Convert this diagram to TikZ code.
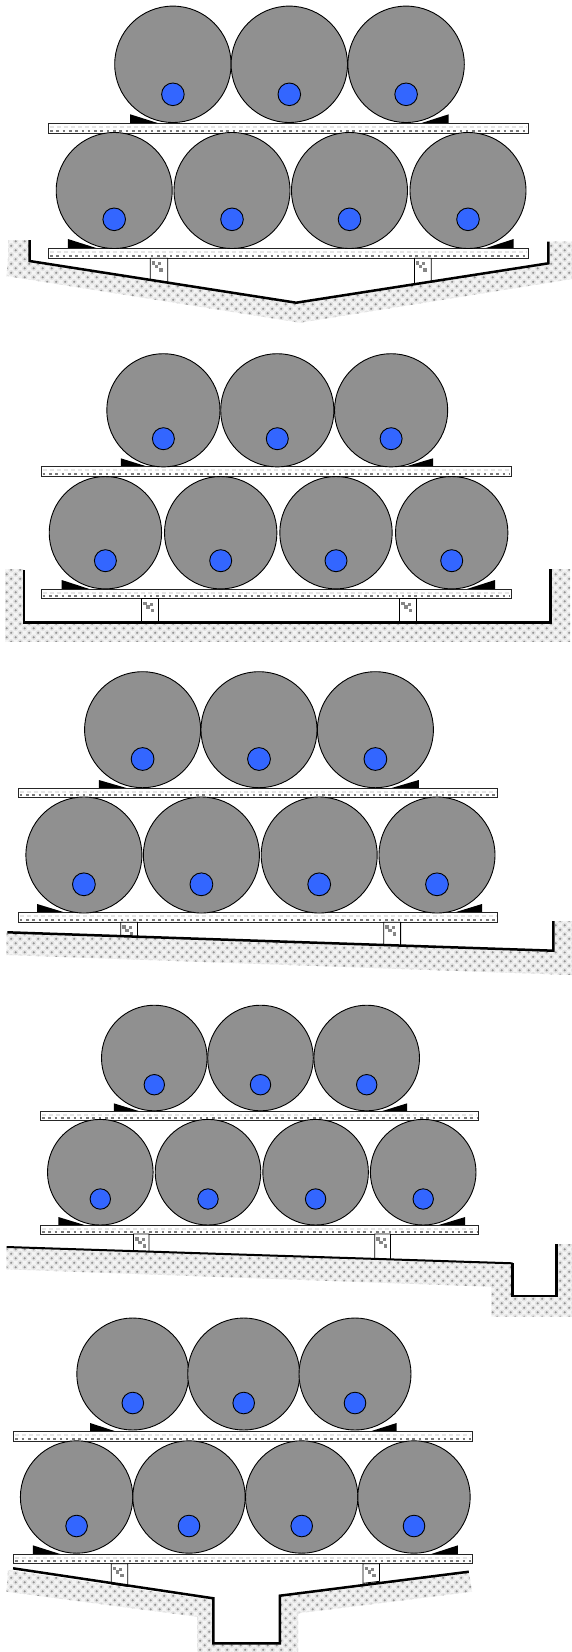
\documentclass[tikz,border=0pt]{standalone}
\usetikzlibrary{patterns}
\definecolor{drumgray}{HTML}{909090}
\definecolor{coreblue}{HTML}{3366FF}
\pgfdeclarepatternformonly{hdots}{\pgfqpoint{-1pt}{-1pt}}{\pgfqpoint{10pt}{10pt}}{\pgfqpoint{9pt}{9pt}}{%
  \pgfpathcircle{\pgfqpoint{2.2pt}{2.2pt}}{1.2pt}\pgfpathcircle{\pgfqpoint{6.7pt}{6.7pt}}{1.2pt}\pgfusepath{fill}}
\pgfdeclarepatternformonly{hdotsB}{\pgfqpoint{-1pt}{-1pt}}{\pgfqpoint{10pt}{10pt}}{\pgfqpoint{9pt}{9pt}}{%
  \pgfpathcircle{\pgfqpoint{2.2pt}{2.2pt}}{2.8pt}\pgfpathcircle{\pgfqpoint{6.7pt}{6.7pt}}{2.8pt}\pgfusepath{fill}}
\tikzset{
  hatched/.style={preaction={fill=black!4},preaction={pattern=hdotsB,pattern color=black!11},pattern=hdots,pattern color=black!42},
  groundline/.style={draw=black,line width=2.5pt,line join=miter,line cap=butt},
  platebox/.style={draw=black!85,line width=.9pt,fill=white},
  platedots/.style={draw=black!52,line width=1.8pt,dash pattern=on 2.6pt off 3.7pt},
  platefaint/.style={draw=black!10,line width=2pt,dash pattern=on 4pt off 3pt},
  supportbox/.style={draw=black,line width=.8pt,fill=white},
  supportmark/.style={fill=black!48},
  drum/.style={draw=black,line width=.9pt,fill=drumgray},
  corecirc/.style={draw=black,line width=.9pt,fill=coreblue},
  chock/.style={fill=black}
}
\newcommand{\plateat}[4]{% x1 x2 ytop ybot
  \path[platebox] (#1,#3) rectangle (#2,#4);
  \path[platefaint] (#1+1.5,#3+3.5) -- (#2-1.5,#3+3.5);
  \path[platedots] (#1+1.5,#4-2.4) -- (#2-1.5,#4-2.4);
  \path[draw=black!85,line width=.9pt] (#1,#3) rectangle (#2,#4);
}
\newcommand{\supportat}[5]{% x1 x2 ytop yleftbot yrightbot
  \path[supportbox] (#1,#3) -- (#1,#4) -- (#2,#5) -- (#2,#3) -- cycle;
  \path[supportmark] (#1+1.5,#3+3) rectangle (#1+5,#3+6.5);
  \path[supportmark] (#1+4.5,#3+6.5) rectangle (#1+8,#3+10);
  \path[supportmark] (#1+8,#3+4) rectangle (#1+11,#3+7);
  \path[supportmark] (#1+9,#3+10) rectangle (#1+12.5,#3+13.5);
}
\newcommand{\chockpair}[6]{% xoL xtL xoR xtR ytop ybot
  \path[chock] (#1,#6+.6) -- (#1,#5) -- (#2,#6+.6) -- cycle;
  \path[chock] (#3,#6+.6) -- (#3,#5) -- (#4,#6+.6) -- cycle;
}
\newcommand{\drumat}[5]{% cx cy r coreY coreR
  \path[drum] (#1,#2) circle[radius=#3pt];
  \path[corecirc] (#1,#4) circle[radius=#5pt];
}
\begin{document}
\begin{tikzpicture}[x=1pt,y=-1pt]
\useasboundingbox (0,0) rectangle (572,1652);
\fill[white] (0,0) rectangle (572,1652);

% ---------- scene 1
\path[hatched] (8,240) -- (29,240) -- (29,262) -- (8,259) -- cycle;
\path[hatched] (8,258.3) -- (29.5,261) -- (296.2,302.7) -- (300,322.7) -- (6.5,276) -- cycle;
\path[hatched] (296.2,302.7) -- (548.4,263.3) -- (572,260) -- (572,279) -- (300,322.7) -- cycle;
\path[hatched] (550,241.7) -- (572,241.7) -- (572,260) -- (550,263) -- cycle;
\chockpair{130.2}{160.5}{448.7}{418.8}{114.3}{123.3}
\chockpair{67.9}{99}{513.7}{483.4}{239}{248.3}
\plateat{48.5}{528.3}{123.3}{133.3}
\plateat{48.5}{528.3}{248.3}{258.3}
\foreach \cx in {172.9,289.3,406.1} {\drumat{\cx}{64.3}{58.2}{94.3}{11.3}}
\foreach \cx in {114.2,232,349.5,468} {\drumat{\cx}{190.5}{58}{219.3}{11.3}}
\supportat{150.3}{167.8}{258.3}{279.8}{282.6}
\supportat{414.4}{431.2}{258.3}{284.2}{281.6}
\path[groundline] (29.5,240) -- (29.5,261) -- (296.2,302.7) -- (548.4,263.3) -- (548.4,241.7);

% ---------- scene 2
\path[hatched] (5,569) -- (24,569) -- (24,624) -- (5,624) -- cycle;
\path[hatched] (5,622) -- (570,622) -- (570,641.7) -- (5,641.7) -- cycle;
\path[hatched] (552,569) -- (570,569) -- (570,624) -- (552,624) -- cycle;
\chockpair{120.8}{149.6}{433}{403}{458.3}{466.7}
\chockpair{61.7}{91.2}{495}{465}{580}{589}
\plateat{41.2}{511.5}{466.7}{476.7}
\plateat{41.2}{511.5}{589}{598.7}
\foreach \cx in {163.4,277.3,391.1} {\drumat{\cx}{410.3}{56.6}{438.7}{11}}
\foreach \cx in {105.4,220.7,336,451.7} {\drumat{\cx}{532.7}{56.2}{560.7}{11}}
\supportat{141.6}{158}{598.7}{621.7}{621.7}
\supportat{399.5}{415.9}{598.7}{621.7}{621.7}
\path[groundline,line width=2.9pt] (24,570) -- (24,622.5) -- (550.2,622.5) -- (550.2,569);

% ---------- scene 3
\path[hatched] (6.5,932) -- (553.4,950.7) -- (572,951.5) -- (572,975) -- (6.5,955) -- cycle;
\path[hatched] (555,921) -- (572,921) -- (572,951.5) -- (555,951) -- cycle;
\chockpair{98.9}{129.5}{418.8}{388.5}{780}{788.3}
\chockpair{37.2}{67.5}{482}{451.7}{904}{912.7}
\plateat{18.2}{497.6}{788.3}{797.7}
\plateat{18.2}{497.6}{912.7}{922.3}
\foreach \cx in {142.6,259,375.4} {\drumat{\cx}{729.7}{58}{759}{11.4}}
\foreach \cx in {83.9,201.4,319.2,437} {\drumat{\cx}{855}{58}{884.3}{11.4}}
\supportat{120.8}{137.5}{922.3}{936.3}{936.9}
\supportat{383.8}{400.6}{922.3}{945}{945.6}
\path[groundline] (7.3,932.3) -- (553.4,950.7) -- (553.4,921);

% ---------- scene 4
\path[hatched] (6.5,1247) -- (491.4,1263) -- (491.4,1286.7) -- (6.5,1269.3) -- cycle;
\path[hatched] (491.4,1263) -- (512.6,1264) -- (512.6,1296) -- (556.4,1296) -- (556.4,1244) -- (572,1244) -- (572,1316.7) -- (491.4,1316.7) -- cycle;
\chockpair{113.8}{141.6}{407.2}{379.4}{1103.3}{1111.3}
\chockpair{58.4}{86.5}{465.2}{436.7}{1217}{1225}
\plateat{40.5}{478.3}{1111.3}{1120.3}
\plateat{40.5}{478.3}{1225}{1234}
\foreach \cx in {154.3,260.5,366.7} {\drumat{\cx}{1058}{52.8}{1084.7}{10.2}}
\foreach \cx in {100.3,208,315.6,423.2} {\drumat{\cx}{1172.2}{52.8}{1199}{10.2}}
\supportat{133.5}{148.9}{1234}{1251}{1251.6}
\supportat{374.7}{390.4}{1234}{1258.9}{1259.4}
\path[groundline,line width=2pt] (6.6,1247) -- (512.6,1263.3);
\path[groundline] (512.6,1263) -- (512.6,1296) -- (556.4,1296) -- (556.4,1244);

% ---------- scene 5
\path[hatched] (8,1570) -- (197,1598) -- (197,1616.7) -- (6.5,1591.7) -- cycle;
\path[hatched] (197,1596) -- (213.4,1598.3) -- (213.4,1643.3) -- (279.8,1643.3) -- (279.8,1595.7) -- (298,1593) -- (298,1652) -- (197,1652) -- cycle;
\path[hatched] (279.8,1595.7) -- (468.8,1571.7) -- (472,1591.7) -- (298,1613.3) -- (298,1593) -- cycle;
\chockpair{90.1}{118.6}{396.6}{367.4}{1423}{1431.7}
\chockpair{32.8}{62}{457.9}{429.4}{1545.3}{1554}
\plateat{13.9}{472.5}{1431.7}{1441.3}
\plateat{13.9}{472.5}{1554}{1563.7}
\foreach \cx in {132.8,243.7,355} {\drumat{\cx}{1374}{56}{1403}{10.8}}
\foreach \cx in {76.6,189,301.7,414} {\drumat{\cx}{1497}{56.2}{1526}{10.8}}
\supportat{111.3}{127.7}{1563.7}{1584}{1586.5}
\supportat{363}{379.4}{1563.7}{1583.3}{1581.3}
\path[groundline] (13.1,1568.3) -- (213.4,1598.3) -- (213.4,1643.3) -- (279.8,1643.3) -- (279.8,1595.7) -- (468.8,1571.7);
\end{tikzpicture}
\end{document}
